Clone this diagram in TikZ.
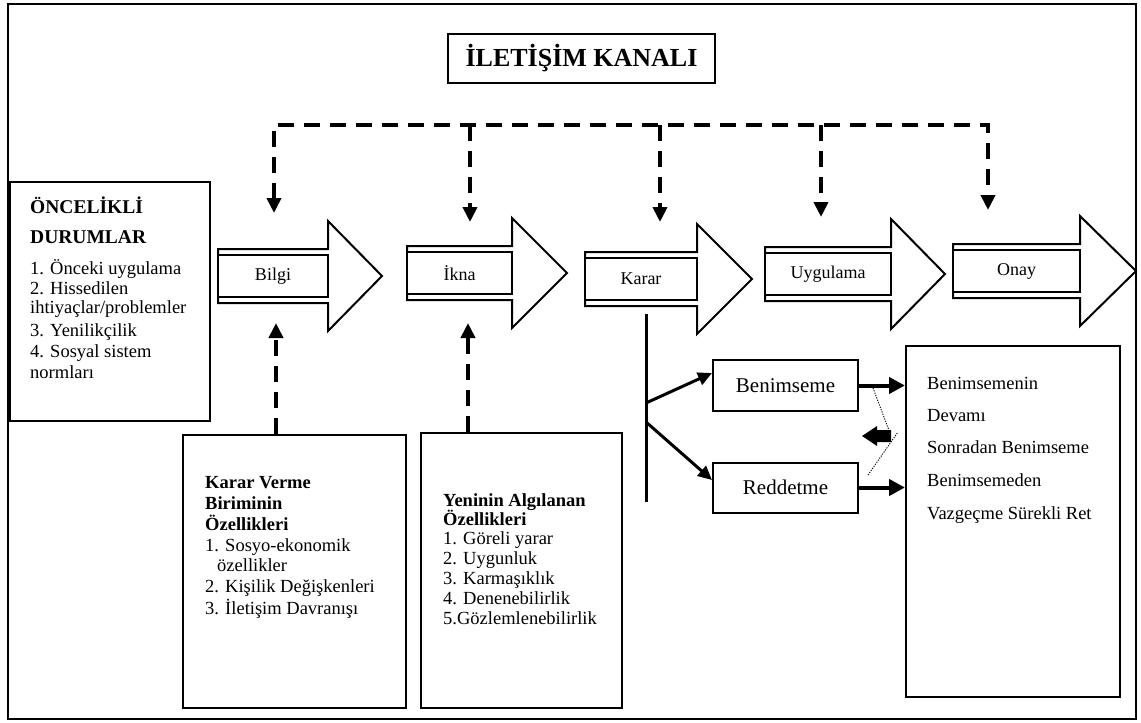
\documentclass[tikz,border=0pt]{standalone}
\usepackage{fontspec}
\setmainfont{Liberation Serif}
\usetikzlibrary{arrows.meta}
\newcommand\fsN{\fontsize{18.5}{21}\selectfont}
\newcommand\fsB{\fontsize{18.5}{21}\selectfont\bfseries}
\newcommand\boxnode[5]{\node[rbox, minimum width={(#4-#2)*1pt}, minimum height={(#5-#3)*1pt}] (#1) at ({(#2+#4)/2},{(#3+#5)/2}) {};}
\newcommand\barrow[6]{%
  \draw[outl] (#2,{#5-27}) -- (#3,{#5-27}) -- (#3,{#5-55}) -- (#4,#5) -- (#3,{#5+55}) -- (#3,{#5+27}) -- (#2,{#5+27}) -- cycle;
  \node[ibox, minimum width={(#3-#2)*1pt}] (#1) at ({(#2+#3)/2},#5) {#6};}
\begin{document}
\begin{tikzpicture}[x=1pt,y=-1pt,
  rbox/.style={draw, line width=2pt, inner sep=0},
  outl/.style={line width=2pt, line join=miter},
  ibox/.style={draw, fill=white, line width=2pt, minimum height=42pt, inner sep=0, font=\fontsize{18}{20}\selectfont},
  txt/.style={anchor=base west, inner sep=0, font=\fsN},
  btxt/.style={anchor=base west, inner sep=0, font=\fsB},
  dsh/.style={line width=4pt, dash pattern=on 16pt off 10pt},
  dtip/.style={-{Triangle[length=15pt,width=14pt]}},
  dtips/.style={{Triangle[length=15pt,width=14pt]}-{Triangle[length=15pt,width=14pt]}},
  thk/.style={line width=3pt, -{Triangle[length=14pt,width=13pt]}},
  thkk/.style={line width=4pt, -{Triangle[length=16pt,width=16pt]}},
  dott/.style={line width=0.9pt, dash pattern=on 1.2pt off 1.3pt}]
\useasboundingbox (0,0) rectangle (1141,723);
% frame
\boxnode{frame}{8}{4}{1136}{719}
% title
\node[rbox, minimum width=267pt, minimum height=49pt, font=\fontsize{26}{30}\selectfont\bfseries] (title) at (581.5,58.5) {İLETİŞİM KANALI};
% block arrows
\barrow{bilgi}{218}{328}{382}{276}{Bilgi}
\barrow{ikna}{407}{512}{567}{273}{İkna}
\barrow{karar}{585}{697}{752}{279}{Karar}
\barrow{uyg}{765}{891}{945}{274}{Uygulama}
\barrow{onay}{953}{1080}{1136}{271}{Onay}
% dashed communication channel
\coordinate (t1) at (274,213);
\coordinate (t2) at (470,222);
\coordinate (t3) at (660,222);
\coordinate (t4) at (821,217);
\coordinate (t5) at (988,210);
\coordinate (h1) at (274,125);
\coordinate (h5) at (988,125);
\draw[dsh, dtips] (t1) -- (h1) -- (h5) -- (t5);
\draw[dsh, dtip] (t2 |- h1) -- (t2);
\draw[dsh, dtip] (t3 |- h1) -- (t3);
\draw[dsh, dtip] (t4 |- h1) -- (t4);
% left box
\boxnode{onc}{10}{182}{210}{421}
\node[btxt, font=\fontsize{19.5}{22}\selectfont\bfseries] (o1) at (30,213) {ÖNCELİKLİ};
\node[btxt, font=\fontsize{19.5}{22}\selectfont\bfseries] (o2) at (30,243) {DURUMLAR};
\node[txt] (o3) at (30,274) {1. Önceki uygulama};
\node[txt] (o4) at (30,294) {2. Hissedilen};
\node[txt] (o5) at (30,313) {ihtiyaçlar/problemler};
\node[txt] (o6) at (30,336) {3. Yenilikçilik};
\node[txt] (o7) at (30,357) {4. Sosyal sistem};
\node[txt] (o8) at (30,378) {normları};
% bottom boxes
\boxnode{kvb}{183}{435}{406}{708}
\node[btxt] (k1) at (205,488) {Karar Verme};
\node[btxt] (k2) at (205,509) {Biriminin};
\node[btxt] (k3) at (205,530) {Özellikleri};
\node[txt] (k4) at (205,551) {1. Sosyo-ekonomik};
\node[txt] (k5) at (217,571) {özellikler};
\node[txt] (k6) at (205,592) {2. Kişilik Değişkenleri};
\node[txt] (k7) at (205,614) {3. İletişim Davranışı};
\boxnode{yao}{421}{433}{622}{708}
\node[btxt] (y1) at (443,506) {Yeninin Algılanan};
\node[btxt] (y2) at (443,525) {Özellikleri};
\node[txt] (y3) at (443,544) {1. Göreli yarar};
\node[txt] (y4) at (443,564) {2. Uygunluk};
\node[txt] (y5) at (443,584) {3. Karmaşıklık};
\node[txt] (y6) at (443,604) {4. Denenebilirlik};
\node[txt] (y7) at (443,624) {5.Gözlemlenebilirlik};
\coordinate (u1) at (276,323);
\coordinate (u2) at (468,323);
\draw[dsh, dtip] (u1 |- kvb.north) -- (u1);
\draw[dsh, dtip] (u2 |- yao.north) -- (u2);
% decision
\coordinate (v1) at (646,314);
\coordinate (v2) at (646,502);
\draw[line width=3pt] (v1) -- (v2);
\node[rbox, minimum width=145pt, minimum height=51pt, font=\fontsize{21}{24}\selectfont] (ben) at (785.5,385.5) {Benimseme};
\node[rbox, minimum width=145pt, minimum height=50pt, font=\fontsize{21}{24}\selectfont] (red) at (785.5,487.5) {Reddetme};
\coordinate (d1) at (646,403);
\coordinate (d2) at (646,422);
\draw[thk] (d1) -- ([yshift=12.5pt]ben.west);
\draw[thk] (d2) -- ([yshift=7.5pt]red.west);
\boxnode{sonuc}{906}{346}{1120}{697}
\draw[thkk] (ben.east) -- (ben.east -| sonuc.west);
\draw[thkk] (red.east) -- (red.east -| sonuc.west);
\node[txt] (s1) at (927,389) {Benimsemenin};
\node[txt] (s2) at (927,421) {Devamı};
\node[txt] (s3) at (927,453) {Sonradan Benimseme};
\node[txt] (s4) at (927,486) {Benimsemeden};
\node[txt] (s5) at (927,519) {Vazgeçme Sürekli Ret};
% dotted guides and small back arrow
\draw[dott] (873,388) -- (890,433);
\draw[dott] (868,475) -- (898,432);
\fill (862,436) -- (877,426) -- (877,430) -- (891,430) -- (891,442) -- (877,442) -- (877,446) -- cycle;
\end{tikzpicture}
\end{document}
